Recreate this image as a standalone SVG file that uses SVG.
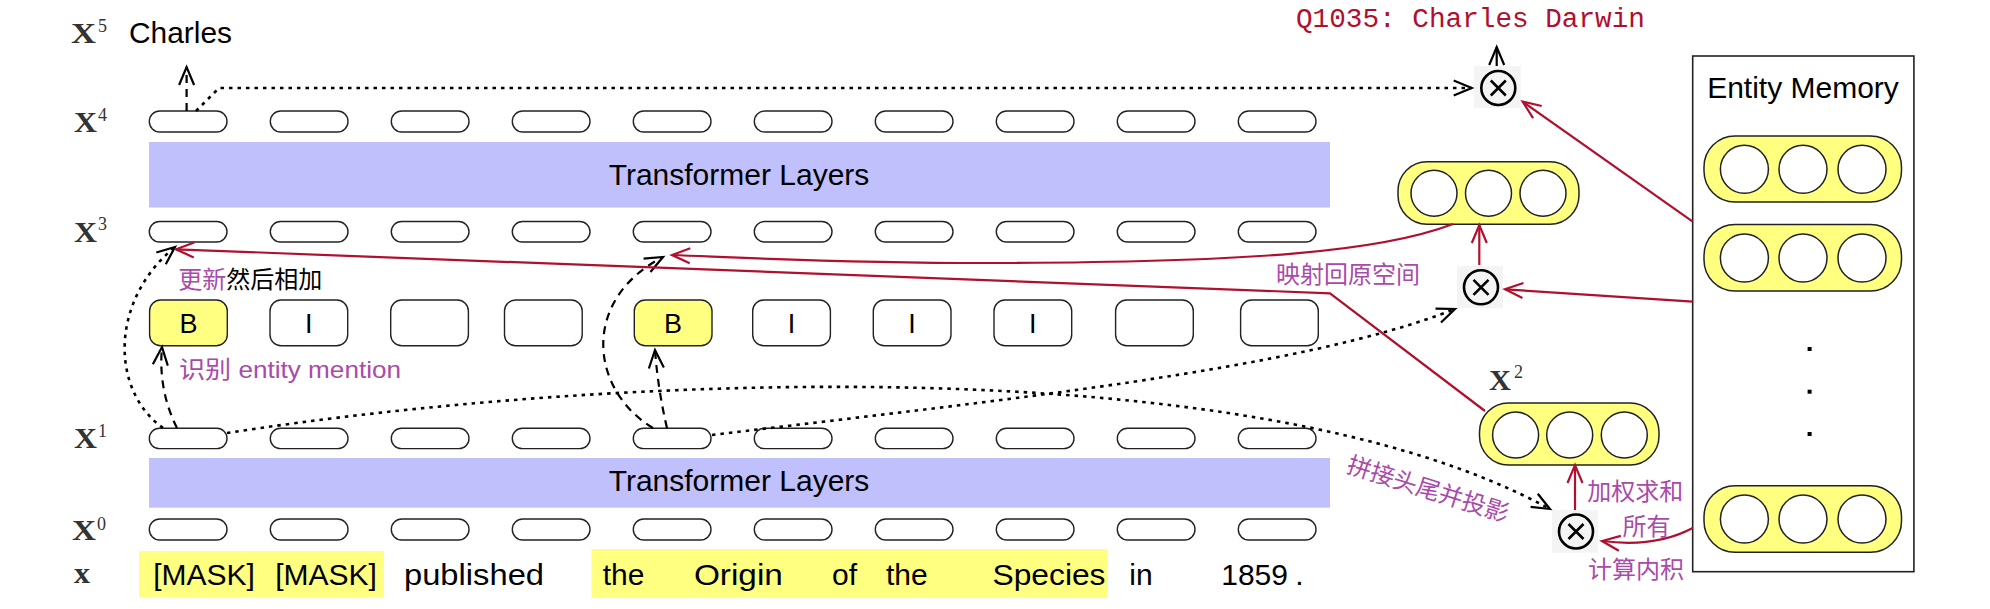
<svg xmlns="http://www.w3.org/2000/svg" width="1990" height="609" viewBox="0 0 1990 609">
<defs>
<style>
.pill{fill:#fff;stroke:#222;stroke-width:1.4}
.tag{fill:#fff;stroke:#222;stroke-width:1.4}
.tagY{fill:#ffff80;stroke:#222;stroke-width:1.4}
.band{fill:#c0c0fc}
.slot{fill:#ffff80;stroke:#222;stroke-width:1.5}
.cell{fill:#fff;stroke:#222;stroke-width:1.5}
.otbg{fill:#f4f4f4}
.ot{fill:none;stroke:#000;stroke-width:2.6}
.sans{font-family:"Liberation Sans","Noto Sans CJK SC",sans-serif;fill:#000}
.word{font-family:"Liberation Sans",sans-serif;font-size:30px;fill:#000;text-anchor:middle}
.lab{font-family:"Liberation Serif",serif;font-weight:bold;font-size:29px;fill:#333}
.sup{font-family:"Liberation Serif",serif;font-size:18px;fill:#333}
.cjk{font-family:"Liberation Sans","Noto Sans CJK SC",sans-serif;font-size:24px;fill:#aa4aaa}
.k{fill:none;stroke:#000;stroke-width:2.2}
.dot{stroke-dasharray:3.5 5;stroke-width:2.6}
.dash{stroke-dasharray:8 6}
.r{fill:none;stroke:#b0102e;stroke-width:2.2}
</style>
<marker id="ak" viewBox="-22 -10 24 20" refX="0" refY="0" markerWidth="24" markerHeight="20" markerUnits="userSpaceOnUse" orient="auto" overflow="visible">
<path d="M-18,-7.5 L0,0 L-18,7.5" fill="none" stroke="#000" stroke-width="2.2" stroke-dasharray="none"/>
</marker>
<marker id="ar" viewBox="-22 -10 24 20" refX="0" refY="0" markerWidth="24" markerHeight="20" markerUnits="userSpaceOnUse" orient="auto" overflow="visible">
<path d="M-18,-7.5 L0,0 L-18,7.5" fill="none" stroke="#b0102e" stroke-width="2.2" stroke-dasharray="none"/>
</marker>
</defs>
<rect width="1990" height="609" fill="#fff"/>

<!-- row labels -->
<g id="labels">
<text class="lab" x="71" y="43" textLength="25" lengthAdjust="spacingAndGlyphs">X</text><text class="sup" x="98" y="32">5</text>
<text class="lab" x="74" y="132" textLength="23" lengthAdjust="spacingAndGlyphs">X</text><text class="sup" x="98" y="121">4</text>
<text class="lab" x="74" y="242" textLength="23" lengthAdjust="spacingAndGlyphs">X</text><text class="sup" x="98" y="230">3</text>
<text class="lab" x="74" y="448" textLength="23" lengthAdjust="spacingAndGlyphs">X</text><text class="sup" x="98" y="437">1</text>
<text class="lab" x="72" y="540" textLength="24" lengthAdjust="spacingAndGlyphs">X</text><text class="sup" x="97" y="530">0</text>
<text class="lab" x="74" y="583" font-size="30" textLength="16" lengthAdjust="spacingAndGlyphs">x</text>
</g>

<g id="output-word"><text class="sans" x="129" y="43" font-size="29" textLength="103" lengthAdjust="spacingAndGlyphs">Charles</text></g>
<g id="answer"><text x="1296" y="27" font-family="Liberation Mono,monospace" font-size="27.7" fill="#b0102e">Q1035: Charles Darwin</text></g>

<!-- Transformer bands -->
<g id="transformer-top">
<rect class="band" x="149" y="142" width="1181" height="65.5"/>
<text class="sans" x="739" y="185" font-size="30" text-anchor="middle">Transformer Layers</text>
</g>
<g id="transformer-bottom">
<rect class="band" x="149" y="458" width="1181" height="49.7"/>
<text class="sans" x="739" y="491" font-size="30" text-anchor="middle">Transformer Layers</text>
</g>

<!-- token rows -->
<g id="row-x4">
<rect class="pill" x="149.3" y="111" width="77.7" height="21" rx="10.5"/>
<rect class="pill" x="270.3" y="111" width="77.7" height="21" rx="10.5"/>
<rect class="pill" x="391.3" y="111" width="77.7" height="21" rx="10.5"/>
<rect class="pill" x="512.3" y="111" width="77.7" height="21" rx="10.5"/>
<rect class="pill" x="633.3" y="111" width="77.7" height="21" rx="10.5"/>
<rect class="pill" x="754.3" y="111" width="77.7" height="21" rx="10.5"/>
<rect class="pill" x="875.3" y="111" width="77.7" height="21" rx="10.5"/>
<rect class="pill" x="996.3" y="111" width="77.7" height="21" rx="10.5"/>
<rect class="pill" x="1117.3" y="111" width="77.7" height="21" rx="10.5"/>
<rect class="pill" x="1238.3" y="111" width="77.7" height="21" rx="10.5"/>
</g>
<g id="row-x3">
<rect class="pill" x="149.3" y="221.5" width="77.7" height="20.5" rx="10.2"/>
<rect class="pill" x="270.3" y="221.5" width="77.7" height="20.5" rx="10.2"/>
<rect class="pill" x="391.3" y="221.5" width="77.7" height="20.5" rx="10.2"/>
<rect class="pill" x="512.3" y="221.5" width="77.7" height="20.5" rx="10.2"/>
<rect class="pill" x="633.3" y="221.5" width="77.7" height="20.5" rx="10.2"/>
<rect class="pill" x="754.3" y="221.5" width="77.7" height="20.5" rx="10.2"/>
<rect class="pill" x="875.3" y="221.5" width="77.7" height="20.5" rx="10.2"/>
<rect class="pill" x="996.3" y="221.5" width="77.7" height="20.5" rx="10.2"/>
<rect class="pill" x="1117.3" y="221.5" width="77.7" height="20.5" rx="10.2"/>
<rect class="pill" x="1238.3" y="221.5" width="77.7" height="20.5" rx="10.2"/>
</g>
<g id="row-x1">
<rect class="pill" x="149.3" y="428.3" width="77.7" height="20.3" rx="10.1"/>
<rect class="pill" x="270.3" y="428.3" width="77.7" height="20.3" rx="10.1"/>
<rect class="pill" x="391.3" y="428.3" width="77.7" height="20.3" rx="10.1"/>
<rect class="pill" x="512.3" y="428.3" width="77.7" height="20.3" rx="10.1"/>
<rect class="pill" x="633.3" y="428.3" width="77.7" height="20.3" rx="10.1"/>
<rect class="pill" x="754.3" y="428.3" width="77.7" height="20.3" rx="10.1"/>
<rect class="pill" x="875.3" y="428.3" width="77.7" height="20.3" rx="10.1"/>
<rect class="pill" x="996.3" y="428.3" width="77.7" height="20.3" rx="10.1"/>
<rect class="pill" x="1117.3" y="428.3" width="77.7" height="20.3" rx="10.1"/>
<rect class="pill" x="1238.3" y="428.3" width="77.7" height="20.3" rx="10.1"/>
</g>
<g id="row-x0">
<rect class="pill" x="149.3" y="519" width="77.7" height="21" rx="10.5"/>
<rect class="pill" x="270.3" y="519" width="77.7" height="21" rx="10.5"/>
<rect class="pill" x="391.3" y="519" width="77.7" height="21" rx="10.5"/>
<rect class="pill" x="512.3" y="519" width="77.7" height="21" rx="10.5"/>
<rect class="pill" x="633.3" y="519" width="77.7" height="21" rx="10.5"/>
<rect class="pill" x="754.3" y="519" width="77.7" height="21" rx="10.5"/>
<rect class="pill" x="875.3" y="519" width="77.7" height="21" rx="10.5"/>
<rect class="pill" x="996.3" y="519" width="77.7" height="21" rx="10.5"/>
<rect class="pill" x="1117.3" y="519" width="77.7" height="21" rx="10.5"/>
<rect class="pill" x="1238.3" y="519" width="77.7" height="21" rx="10.5"/>
</g>

<!-- BIO tags -->
<g id="bio-tags">
<rect class="tagY" x="149.6" y="300" width="77.7" height="45.7" rx="11"/>
<rect class="tag" x="270" y="300" width="77.7" height="45.7" rx="11"/>
<rect class="tag" x="390.7" y="300" width="77.7" height="45.7" rx="11"/>
<rect class="tag" x="504.5" y="300" width="77.7" height="45.7" rx="11"/>
<rect class="tagY" x="634.3" y="300" width="77.7" height="45.7" rx="11"/>
<rect class="tag" x="752.7" y="300" width="77.7" height="45.7" rx="11"/>
<rect class="tag" x="873.3" y="300" width="77.7" height="45.7" rx="11"/>
<rect class="tag" x="994" y="300" width="77.7" height="45.7" rx="11"/>
<rect class="tag" x="1115.6" y="300" width="77.7" height="45.7" rx="11"/>
<rect class="tag" x="1240.6" y="300" width="77.7" height="45.7" rx="11"/>
<g class="sans" font-size="27" text-anchor="middle">
<text x="188.4" y="332.5">B</text>
<text x="308.8" y="332.5">I</text>
<text x="673.1" y="332.5">B</text>
<text x="791.5" y="332.5">I</text>
<text x="912.1" y="332.5">I</text>
<text x="1032.8" y="332.5">I</text>
</g>
</g>

<!-- input sentence -->
<g id="input-sentence">
<rect x="139" y="551" width="245" height="46" fill="#ffff80"/>
<rect x="591.5" y="549" width="516" height="49" fill="#ffff80"/>
<text class="word" x="204" y="585">[MASK]</text>
<text class="word" x="326" y="585">[MASK]</text>
<text class="word" x="474" y="585" textLength="140" lengthAdjust="spacingAndGlyphs">published</text>
<text class="word" x="623.5" y="585">the</text>
<text class="word" x="738.4" y="585" textLength="89" lengthAdjust="spacingAndGlyphs">Origin</text>
<text class="word" x="844.5" y="585">of</text>
<text class="word" x="906.8" y="585">the</text>
<text class="word" x="1049" y="585" textLength="113" lengthAdjust="spacingAndGlyphs">Species</text>
<text class="word" x="1141" y="585">in</text>
<text class="word" x="1254.6" y="585">1859</text>
<text class="word" x="1299.5" y="585">.</text>
</g>

<!-- entity memory -->
<g id="entity-memory">
<rect x="1692.7" y="56" width="221.2" height="515.7" fill="#fff" stroke="#222" stroke-width="1.6"/>
<text class="sans" x="1803" y="98" font-size="30" text-anchor="middle">Entity Memory</text>
<rect class="slot" x="1704" y="136" width="197.5" height="66" rx="31"/>
<circle class="cell" cx="1744.4" cy="169.3" r="24"/><circle class="cell" cx="1803" cy="169.3" r="24"/><circle class="cell" cx="1862" cy="169.3" r="24"/>
<rect class="slot" x="1704" y="224.5" width="197.5" height="66.5" rx="31"/>
<circle class="cell" cx="1744.4" cy="258" r="24"/><circle class="cell" cx="1803" cy="258" r="24"/><circle class="cell" cx="1862" cy="258" r="24"/>
<rect x="1807.6" y="347" width="4" height="4" fill="#000"/>
<rect x="1807.6" y="389.7" width="4" height="4" fill="#000"/>
<rect x="1807.6" y="432" width="4" height="4" fill="#000"/>
<rect class="slot" x="1704" y="485.7" width="197.5" height="66.6" rx="31"/>
<circle class="cell" cx="1744.4" cy="519" r="24"/><circle class="cell" cx="1803" cy="519" r="24"/><circle class="cell" cx="1862" cy="519" r="24"/>
</g>

<!-- projected entity -->
<g id="projected-entity">
<rect class="slot" x="1398" y="161.7" width="181" height="62.6" rx="29"/>
<circle class="cell" cx="1434" cy="193.3" r="23"/><circle class="cell" cx="1488.5" cy="193.3" r="23"/><circle class="cell" cx="1543" cy="193.3" r="23"/>
</g>

<!-- X2 entity -->
<g id="entity-x2">
<rect class="slot" x="1479.5" y="403" width="179.5" height="62" rx="29"/>
<circle class="cell" cx="1515.6" cy="435" r="23"/><circle class="cell" cx="1569.7" cy="435" r="23"/><circle class="cell" cx="1624.3" cy="435" r="23"/>
<text class="lab" x="1489" y="390" textLength="22" lengthAdjust="spacingAndGlyphs">X</text><text class="sup" x="1514" y="378">2</text>
</g>

<!-- product nodes -->
<g id="otimes-top">
<rect class="otbg" x="1474" y="66" width="46.7" height="42.3"/>
<circle class="ot" cx="1498.3" cy="88" r="17"/>
<path class="ot" d="M1490.8,80.5 L1505.8,95.5 M1505.8,80.5 L1490.8,95.5"/>
</g>
<g id="otimes-mid">
<rect class="otbg" x="1457" y="266" width="46" height="42.3"/>
<circle class="ot" cx="1481" cy="287.3" r="17"/>
<path class="ot" d="M1473.5,279.8 L1488.5,294.8 M1488.5,279.8 L1473.5,294.8"/>
</g>
<g id="otimes-bottom">
<rect class="otbg" x="1552" y="510" width="46" height="42.7"/>
<circle class="ot" cx="1576" cy="531.5" r="17"/>
<path class="ot" d="M1568.5,524 L1583.5,539 M1583.5,524 L1568.5,539"/>
</g>

<!-- connectors -->
<g id="connectors">
<path class="k dash" d="M186.6,111 L186.6,67" marker-end="url(#ak)"/>
<path class="k dot" d="M196,111 L219,88 L1471.7,88" marker-end="url(#ak)"/>
<path class="k" d="M1496.7,66 L1496.7,47" marker-end="url(#ak)"/>
<path class="k dot" d="M163,428 C110,390 110,300 175,247" marker-end="url(#ak)"/>
<path class="k dash" d="M177,428 Q158,390 162,347" marker-end="url(#ak)"/>
<path class="k dot" d="M227,433 C600,375 1250,345 1550,509" marker-end="url(#ak)"/>
<path class="k dash" d="M653,428 C590,390 580,300 663,257" marker-end="url(#ak)"/>
<path class="k dash" d="M667,428 Q658,390 655,350" marker-end="url(#ak)"/>
<path class="k dot" d="M712,435 C1000,400 1300,370 1455,309" marker-end="url(#ak)"/>
<path class="r" d="M1485,411 L1330,293.3 L176,249.3" marker-end="url(#ar)"/>
<path class="r" d="M1453,224 C1380,252 1250,262 1000,263 C850,263.5 750,258 672,255" marker-end="url(#ar)"/>
<path class="r" d="M1479.3,265 L1479.3,225" marker-end="url(#ar)"/>
<path class="r" d="M1692.7,301.7 L1505,289.3" marker-end="url(#ar)"/>
<path class="r" d="M1692.7,221.7 L1522.7,101.7" marker-end="url(#ar)"/>
<path class="r" d="M1575,510 L1575,465" marker-end="url(#ar)"/>
<path class="r" d="M1692.7,528 Q1655,548 1602,541" marker-end="url(#ar)"/>
</g>

<!-- annotations -->
<g id="annotations">
<text class="cjk" x="178.3" y="288"><tspan>更新</tspan><tspan fill="#000">然后相加</tspan></text>
<text class="cjk" x="179" y="378" font-size="26" textLength="222" lengthAdjust="spacingAndGlyphs">识别 entity mention</text>
<text class="cjk" x="1276" y="283">映射回原空间</text>
<text class="cjk" x="1587.3" y="500">加权求和</text>
<text class="cjk" x="1622.6" y="535" fill="#b0102e">所有</text>
<text class="cjk" x="1588" y="578">计算内积</text>
<text class="cjk" x="1345.5" y="472" font-size="23" transform="rotate(17.5 1345.5 472)">拼接头尾并投影</text>
</g>
</svg>
